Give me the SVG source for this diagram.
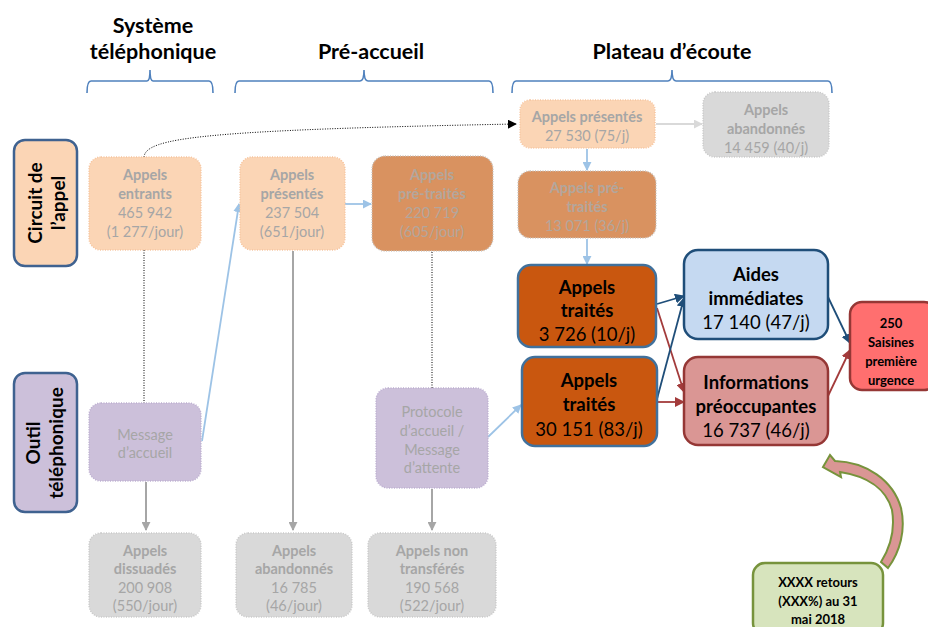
<svg xmlns="http://www.w3.org/2000/svg" width="928" height="627" viewBox="0 0 928 627">
<defs>
<style>
text{font-family:Lato,"Liberation Sans",sans-serif;text-anchor:middle}
.h{font-size:21.5px;font-weight:bold;fill:#000}
.side{font-size:19px;font-weight:bold;fill:#000}
.pale{font-size:14.5px;fill:#A6A6A6}
.pale .b{font-weight:bold}
.pt{font-size:14.5px;fill:#B3A69C}
.pt .b{font-weight:bold}
.main{font-size:18.5px;fill:#000}
.main .b{font-weight:bold}
.small{font-size:13px;font-weight:bold;fill:#000}
.brace{fill:none;stroke:#4F81BD;stroke-width:1.6}
.peach{fill:#FBD5B5;stroke:#F6C49E;stroke-width:1.5;stroke-dasharray:1 1.5}
.grey{fill:#D9D9D9;stroke:#C9C9C9;stroke-width:1.5;stroke-dasharray:1 1.5}
.lav{fill:#CCC0DA;stroke:#BCAED0;stroke-width:1.5;stroke-dasharray:1 1.5}
.ptb{fill:#D99260;stroke:#C9C2BC;stroke-width:1.5;stroke-dasharray:1 1.5}
.dot{fill:none;stroke:#000;stroke-width:1;stroke-dasharray:1 1.5}
.lb{fill:none;stroke:#9DC3E6;stroke-width:1.8}
.gr{fill:none;stroke:#A6A6A6;stroke-width:2}
.lg{fill:none;stroke:#D9D9D9;stroke-width:2}
.db{fill:none;stroke:#1F4E79;stroke-width:1.8}
.dr{fill:none;stroke:#A33B3B;stroke-width:1.8}
</style>
<marker id="mBk" viewBox="0 0 10 10" refX="9" refY="5" markerWidth="9" markerHeight="9" markerUnits="userSpaceOnUse" orient="auto"><path d="M0,0L10,5L0,10z" fill="#000"/></marker>
<marker id="mLb" viewBox="0 0 10 10" refX="9" refY="5" markerWidth="9" markerHeight="9" markerUnits="userSpaceOnUse" orient="auto"><path d="M0,0L10,5L0,10z" fill="#9DC3E6"/></marker>
<marker id="mGr" viewBox="0 0 10 10" refX="9" refY="5" markerWidth="9" markerHeight="9" markerUnits="userSpaceOnUse" orient="auto"><path d="M0,0L10,5L0,10z" fill="#A6A6A6"/></marker>
<marker id="mLg" viewBox="0 0 10 10" refX="9" refY="5" markerWidth="9" markerHeight="9" markerUnits="userSpaceOnUse" orient="auto"><path d="M0,0L10,5L0,10z" fill="#D9D9D9"/></marker>
<marker id="mDb" viewBox="0 0 10 10" refX="9" refY="5" markerWidth="10" markerHeight="10" markerUnits="userSpaceOnUse" orient="auto"><path d="M0,0L10,5L0,10z" fill="#1F4E79"/></marker>
<marker id="mDr" viewBox="0 0 10 10" refX="9" refY="5" markerWidth="10" markerHeight="10" markerUnits="userSpaceOnUse" orient="auto"><path d="M0,0L10,5L0,10z" fill="#A33B3B"/></marker>
</defs>
<rect width="928" height="627" fill="#fff"/>

<g id="headers">
<text class="h" x="153" y="33">Système</text>
<text class="h" x="153" y="59">téléphonique</text>
<text class="h" x="371" y="59">Pré-accueil</text>
<text class="h" x="672" y="59">Plateau d’écoute</text>
<path class="brace" d="M87,93 Q87,81 91,81 L147,81 Q150,81 150,70 Q150,81 153,81 L209,81 Q213,81 213,93"/>
<path class="brace" d="M235,93 Q235,81 239,81 L360,81 Q364,81 364,70 Q364,81 368,81 L489,81 Q493,81 493,93"/>
<path class="brace" d="M512,93 Q512,81 516,81 L668,81 Q672,81 672,70 Q672,81 676,81 L828,81 Q832,81 832,93"/>
</g>

<g id="circuit">
<rect x="14" y="140" width="63" height="126" rx="11" fill="#FBD5B5" stroke="#3F6290" stroke-width="2.5"/>
<text class="side" transform="translate(42,203) rotate(-90)">Circuit de</text>
<text class="side" transform="translate(65,203) rotate(-90)">l’appel</text>
</g>
<g id="outil">
<rect x="14" y="373" width="63" height="139" rx="11" fill="#CCC0DA" stroke="#3F6290" stroke-width="2.5"/>
<text class="side" transform="translate(40,443) rotate(-90)">Outil</text>
<text class="side" transform="translate(63,443) rotate(-90)">téléphonique</text>
</g>

<g id="connectors">
<path class="dot" d="M144,157 C146,138 200,130 516,124" marker-end="url(#mBk)"/>
<path class="dot" d="M144,250 L144,403"/>
<path class="gr" d="M146,482 L146,530" marker-end="url(#mGr)"/>
<path class="lb" d="M202,441 L239,204" marker-end="url(#mLb)"/>
<path class="lb" d="M345,204 L371,204" marker-end="url(#mLb)"/>
<path class="gr" d="M293,251 L293,530" marker-end="url(#mGr)"/>
<path class="dot" d="M432,252 L432,388"/>
<path class="gr" d="M432,489 L432,530" marker-end="url(#mGr)"/>
<path class="lb" d="M488,437 L521,405" marker-end="url(#mLb)"/>
<path class="lg" d="M656,124 L702,124" marker-end="url(#mLg)"/>
<path class="lb" d="M587,149 L587,170" marker-end="url(#mLb)"/>
<path class="lb" d="M587,239 L587,264" marker-end="url(#mLb)"/>
<path class="db" d="M657,304 L684,296" marker-end="url(#mDb)"/>
<path class="dr" d="M657,308 L684,392" marker-end="url(#mDr)"/>
<path class="db" d="M657,399 L684,298" marker-end="url(#mDb)"/>
<path class="dr" d="M657,402 L684,402" marker-end="url(#mDr)"/>
<path class="db" d="M828,297 L850,343" marker-end="url(#mDb)"/>
<path class="dr" d="M828,396 L850,350" marker-end="url(#mDr)"/>
<path d="M823,467 L830,455 L835,461 C866,462 893,480 901,508 C906,530 900,552 888,568 L881,562 C891,546 895,528 892,510 C886,488 866,476 840,472 L841,477 Z" fill="#DA9694" stroke="#77933C" stroke-width="2"/>
</g>

<g id="entrants">
<rect class="peach" x="89" y="157" width="112" height="93" rx="12"/>
<text class="pale"><tspan class="b" x="145" y="180">Appels</tspan><tspan class="b" x="145" y="199">entrants</tspan><tspan x="145" y="218">465 942</tspan><tspan x="145" y="237">(1 277/jour)</tspan></text>
</g>
<g id="message-accueil">
<rect class="lav" x="89" y="403" width="112" height="78" rx="12"/>
<text class="pale"><tspan x="145" y="440">Message</tspan><tspan x="145" y="458">d’accueil</tspan></text>
</g>
<g id="dissuades">
<rect class="grey" x="89" y="533" width="112" height="84" rx="12"/>
<text class="pale"><tspan class="b" x="145" y="556">Appels</tspan><tspan class="b" x="145" y="574">dissuadés</tspan><tspan x="145" y="593">200 908</tspan><tspan x="145" y="611">(550/jour)</tspan></text>
</g>
<g id="presentes">
<rect class="peach" x="240" y="157" width="105" height="93" rx="12"/>
<text class="pale"><tspan class="b" x="292" y="180">Appels</tspan><tspan class="b" x="292" y="199">présentés</tspan><tspan x="292" y="218">237 504</tspan><tspan x="292" y="237">(651/jour)</tspan></text>
</g>
<g id="abandonnes">
<rect class="grey" x="236" y="533" width="116" height="84" rx="12"/>
<text class="pale"><tspan class="b" x="294" y="556">Appels</tspan><tspan class="b" x="294" y="574">abandonnés</tspan><tspan x="294" y="593">16 785</tspan><tspan x="294" y="611">(46/jour)</tspan></text>
</g>
<g id="pretraites">
<rect class="ptb" x="372" y="156" width="121" height="95" rx="13"/>
<text class="pt"><tspan class="b" x="432" y="180">Appels</tspan><tspan class="b" x="432" y="199">pré-traités</tspan><tspan x="432" y="218">220 719</tspan><tspan x="432" y="237">(605/jour)</tspan></text>
</g>
<g id="protocole">
<rect class="lav" x="376" y="388" width="112" height="100" rx="12"/>
<text class="pale"><tspan x="432" y="417">Protocole</tspan><tspan x="432" y="436">d’accueil /</tspan><tspan x="432" y="455">Message</tspan><tspan x="432" y="473">d’attente</tspan></text>
</g>
<g id="non-transferes">
<rect class="grey" x="368" y="533" width="128" height="84" rx="12"/>
<text class="pale"><tspan class="b" x="432" y="556">Appels non</tspan><tspan class="b" x="432" y="574">transférés</tspan><tspan x="432" y="593">190 568</tspan><tspan x="432" y="611">(522/jour)</tspan></text>
</g>
<g id="plateau-presentes">
<rect class="peach" x="520" y="100" width="135" height="48" rx="10"/>
<text class="pale"><tspan class="b" x="587" y="122">Appels présentés</tspan><tspan x="587" y="141">27 530 (75/j)</tspan></text>
</g>
<g id="plateau-abandonnes">
<rect class="grey" x="703" y="92" width="126" height="65" rx="12"/>
<text class="pale"><tspan class="b" x="766" y="115">Appels</tspan><tspan class="b" x="766" y="134">abandonnés</tspan><tspan x="766" y="153">14 459 (40/j)</tspan></text>
</g>
<g id="plateau-pretraites">
<rect class="ptb" x="518" y="171" width="138" height="67" rx="12"/>
<text class="pt"><tspan class="b" x="587" y="193">Appels pré-</tspan><tspan class="b" x="587" y="212">traités</tspan><tspan x="587" y="231">13 071 (36/j)</tspan></text>
</g>
<g id="traites-1">
<rect x="518" y="265" width="138" height="82" rx="13" fill="#C9570F" stroke="#41719C" stroke-width="2.5"/>
<text class="main"><tspan class="b" x="587" y="294">Appels</tspan><tspan class="b" x="587" y="317">traités</tspan><tspan x="587" y="341">3 726 (10/j)</tspan></text>
</g>
<g id="traites-2">
<rect x="522" y="357" width="135" height="89" rx="13" fill="#C9570F" stroke="#41719C" stroke-width="2.5"/>
<text class="main"><tspan class="b" x="589" y="387">Appels</tspan><tspan class="b" x="589" y="411">traités</tspan><tspan x="589" y="436">30 151 (83/j)</tspan></text>
</g>
<g id="aides">
<rect x="684" y="250" width="144" height="89" rx="14" fill="#C5D9F1" stroke="#1F4E79" stroke-width="2.5"/>
<text class="main"><tspan class="b" x="756" y="281">Aides</tspan><tspan class="b" x="756" y="305">immédiates</tspan><tspan x="756" y="329">17 140 (47/j)</tspan></text>
</g>
<g id="informations">
<rect x="684" y="357" width="144" height="88" rx="14" fill="#DA9694" stroke="#953735" stroke-width="2.5"/>
<text class="main"><tspan class="b" x="756" y="389">Informations</tspan><tspan class="b" x="756" y="413">préoccupantes</tspan><tspan x="756" y="437">16 737  (46/j)</tspan></text>
</g>
<g id="saisines">
<rect x="850" y="302" width="86" height="88" rx="12" fill="#FF6F6F" stroke="#953735" stroke-width="2.5"/>
<text class="small"><tspan x="891" y="328">250</tspan><tspan x="891" y="347">Saisines</tspan><tspan x="891" y="366">première</tspan><tspan x="891" y="385">urgence</tspan></text>
</g>
<g id="retours">
<rect x="753" y="563" width="130" height="72" rx="12" fill="#D7E4BD" stroke="#77933C" stroke-width="2.5"/>
<text class="small"><tspan x="818" y="587">XXXX retours</tspan><tspan x="818" y="606">(XXX%) au 31</tspan><tspan x="818" y="624">mai 2018</tspan></text>
</g>
</svg>
